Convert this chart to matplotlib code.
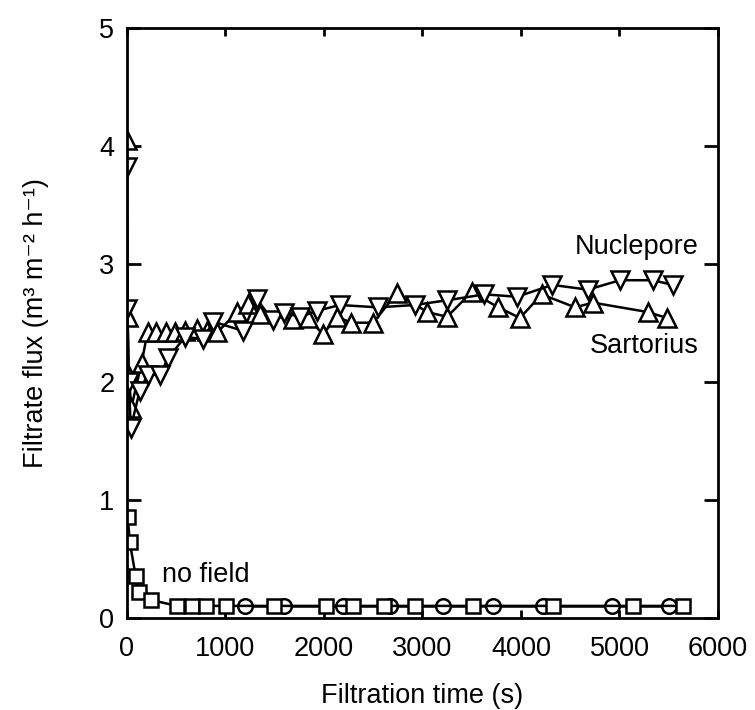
import numpy as np
import matplotlib
matplotlib.use('Agg')
import matplotlib.pyplot as plt

# %% dados
t_sart = [0, 8, 20, 45, 150, 210, 300, 400, 490, 590, 710, 810, 920, 1120, 1230, 1350,
          1690, 1840, 1990, 2130, 2280, 2500, 2740, 3050, 3250, 3500, 3770, 3990, 4210,
          4550, 4730, 5290, 5480]
f_sart = [4.05, 2.55, 2.05, 1.78, 2.16, 2.42, 2.42, 2.42, 2.42, 2.43, 2.45, 2.43, 2.42,
          2.59, 2.66, 2.57, 2.53, 2.54, 2.40, 2.55, 2.50, 2.50, 2.75, 2.59, 2.55, 2.76,
          2.63, 2.54, 2.74, 2.63, 2.67, 2.59, 2.54]

t_nucl = [0, 5, 20, 40, 130, 210, 335, 420, 590, 775, 875, 1180, 1320, 1480, 1600, 1760,
          1930, 2160, 2550, 2920, 3250, 3630, 3960, 4320, 4680, 5005, 5340, 5540]
f_nucl = [3.82, 2.62, 2.00, 1.61, 1.92, 2.06, 2.06, 2.20, 2.38, 2.36, 2.51, 2.43, 2.70,
          2.52, 2.58, 2.55, 2.60, 2.65, 2.63, 2.65, 2.69, 2.74, 2.72, 2.82, 2.78, 2.86,
          2.86, 2.82]

t_sq = [10, 30, 90, 120, 250, 505, 660, 800, 1005, 1490, 2020, 2300, 2610, 2920, 3510,
        4330, 5140, 5640]
f_sq = [0.85, 0.64, 0.35, 0.22, 0.15, 0.10, 0.10, 0.10, 0.10, 0.10, 0.10, 0.10, 0.10,
        0.10, 0.10, 0.10, 0.10, 0.10]

t_circ = [1200, 1600, 2190, 2670, 3210, 3715, 4220, 4920, 5500]
f_circ = [0.10, 0.10, 0.10, 0.10, 0.10, 0.10, 0.10, 0.10, 0.10]

# %% figura
plt.rcParams['font.family'] = ['Liberation Sans', 'DejaVu Sans']
fig = plt.figure(figsize=(7.55, 7.1), dpi=100)
ax = fig.add_axes([0.168, 0.130, 0.783, 0.831])

estilo = dict(color='black', lw=1.8, mfc='white', mec='black', mew=1.8)
ax.plot(t_circ, f_circ, marker='o', ms=10.5, **estilo)
ax.plot(t_sq, f_sq, marker='s', ms=10.5, **estilo)
ax.plot(t_sart, f_sart, marker='^', ms=12.5, **estilo)
ax.plot(t_nucl, f_nucl, marker='v', ms=12.5, **estilo)

ax.text(5800, 3.14, 'Nuclepore', ha='right', va='center', fontsize=19.5)
ax.text(5800, 2.30, 'Sartorius', ha='right', va='center', fontsize=19.5)
ax.text(360, 0.36, 'no field', ha='left', va='center', fontsize=19.5)

ax.set_xlim(0, 6000)
ax.set_ylim(0, 5)
ax.set_xticks(np.arange(0, 6001, 1000))
ax.set_yticks(np.arange(0, 6, 1))
ax.tick_params(axis='both', direction='in', top=True, right=True, width=2,
               labelsize=19.5)
ax.tick_params(axis='x', length=6, pad=13)
ax.tick_params(axis='y', length=10, pad=9)
for s in ax.spines.values():
    s.set_linewidth(2)

ax.set_xlabel('Filtration time (s)', fontsize=19.5, labelpad=15)
ax.set_ylabel('Filtrate flux (m³ m⁻² h⁻¹)', fontsize=19.5, labelpad=36)

fig.savefig('out.png', dpi=100)
